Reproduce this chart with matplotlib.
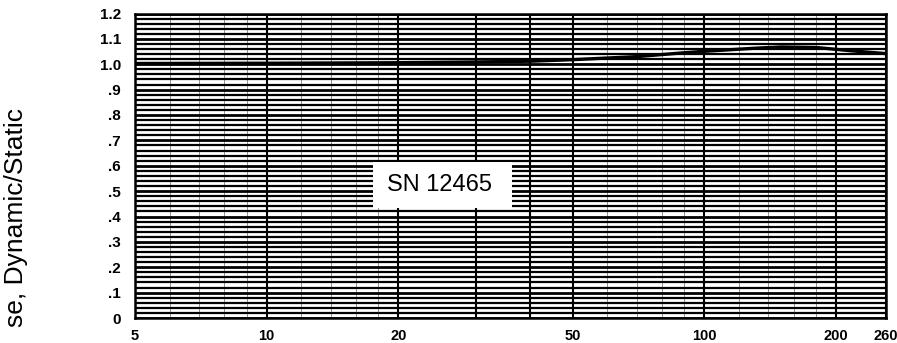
import matplotlib.pyplot as plt
from matplotlib.patches import Rectangle
import numpy as np

# frequency (Hz) vs dynamic/static response ratio
freq = [5, 10, 20, 30, 40, 50, 70, 88, 100, 130, 150, 180, 220, 260]
ratio = [1.003, 1.004, 1.006, 1.009, 1.012, 1.018, 1.03, 1.044, 1.051, 1.063, 1.068, 1.066, 1.052, 1.042]

x_tick_vals = [5, 10, 20, 50, 100, 200, 260]
x_tick_text = ["5", "10", "20", "50", "100", "200", "260"]
x_heavy_lines = [30, 40]
x_light_lines = [6, 7, 8, 9, 12, 14, 16, 18, 60, 70, 80, 90, 120, 140, 160, 180]
y_tick_vals = [0, .1, .2, .3, .4, .5, .6, .7, .8, .9, 1.0, 1.1, 1.2]
y_tick_text = ["0", ".1", ".2", ".3", ".4", ".5", ".6", ".7", ".8", ".9", "1.0", "1.1", "1.2"]
y_fine_step = 0.02

plt.rcParams['font.family'] = ['Liberation Sans', 'DejaVu Sans']

fig = plt.figure(figsize=(8.97, 3.43), dpi=100)
ax = fig.add_axes([135 / 897, 25 / 343, 751 / 897, 304.5 / 343])

ax.set_xscale("log")
ax.set_xlim(5, 260)
ax.set_ylim(0, 1.2)

ax.set_xticks(x_tick_vals)
ax.set_xticklabels(x_tick_text, fontsize=10.5, fontweight="bold")
ax.set_xticks(x_light_lines, minor=True)
ax.xaxis.set_minor_formatter(plt.NullFormatter())
ax.set_yticks(y_tick_vals)
ax.set_yticklabels(y_tick_text, fontsize=11, fontweight="bold")
ax.set_yticks(np.arange(0, 1.2 + 1e-9, y_fine_step), minor=True)
ax.tick_params(which="both", length=0)
ax.tick_params(axis="x", pad=8)
ax.tick_params(axis="y", pad=10)

# dense chart-paper grid
ax.grid(which="minor", axis="y", color="black", lw=1.6)
ax.grid(which="major", axis="y", color="black", lw=2.0)
ax.grid(which="minor", axis="x", color="#666666", lw=0.5)
ax.grid(which="major", axis="x", color="black", lw=1.5)
for xv in x_heavy_lines:
    ax.axvline(xv, color="black", lw=1.5)
ax.set_axisbelow(True)

for s in ax.spines.values():
    s.set_linewidth(1.8)

ax.plot(freq, ratio, color="black", lw=2.4)

# white label patch pasted over the grid
ax.add_patch(Rectangle((0.317, 0.361), 0.185, 0.151, transform=ax.transAxes,
                       facecolor="white", edgecolor="none", zorder=3))
ax.text(0.406, 0.437, "SN 12465", transform=ax.transAxes, fontsize=17,
        ha="center", va="center", zorder=4)

fig.text(0.018, 0.365, "se, Dynamic/Static", rotation=90, fontsize=19,
         ha="center", va="center")

fig.savefig("out.png", dpi=100)
